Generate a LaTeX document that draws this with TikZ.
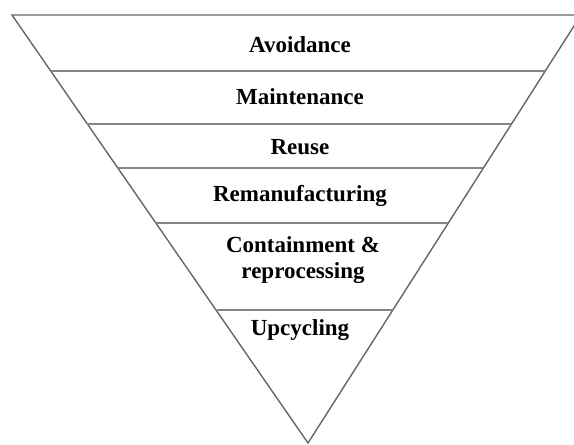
\documentclass[tikz,border=0pt]{standalone}
\usepackage{fontspec}
\setmainfont{Liberation Serif}
\usetikzlibrary{positioning, calc}
\definecolor{edgegray}{HTML}{666666}
\definecolor{bandgray}{HTML}{858585}

\begin{document}
\begin{tikzpicture}[x=1pt, y=-1pt, font=\fontsize{23}{27}\selectfont\bfseries]
  \useasboundingbox (0,0) rectangle (574,445);
  \coordinate (tl) at (12,15);
  \coordinate (tr) at (581,15);
  \coordinate (apex) at (308,443);
  % funnel outline
  \draw[edgegray, line width=1.4pt, line join=miter] (tl) -- (tr) -- (apex) -- cycle;
  % band dividers
  \foreach \t in {0.1308, 0.2547, 0.3575, 0.4860, 0.6893}
    \draw[bandgray, line width=1.8pt] ($(tl)!\t!(apex)$) -- ($(tr)!\t!(apex)$);
  \node (avoid) at (300,45) {Avoidance};
  \node (maint) at (300,97) {Maintenance};
  \node (reuse) at (300,147) {Reuse};
  \node (reman) at (300,196) {Remanufacturing};
  \node[align=center, inner sep=0pt] (contain) at (303,260) {Containment \&\\[-1pt] reprocessing};
  \node (upcyc) at (300,330) {Upcycling};
\end{tikzpicture}
\end{document}
